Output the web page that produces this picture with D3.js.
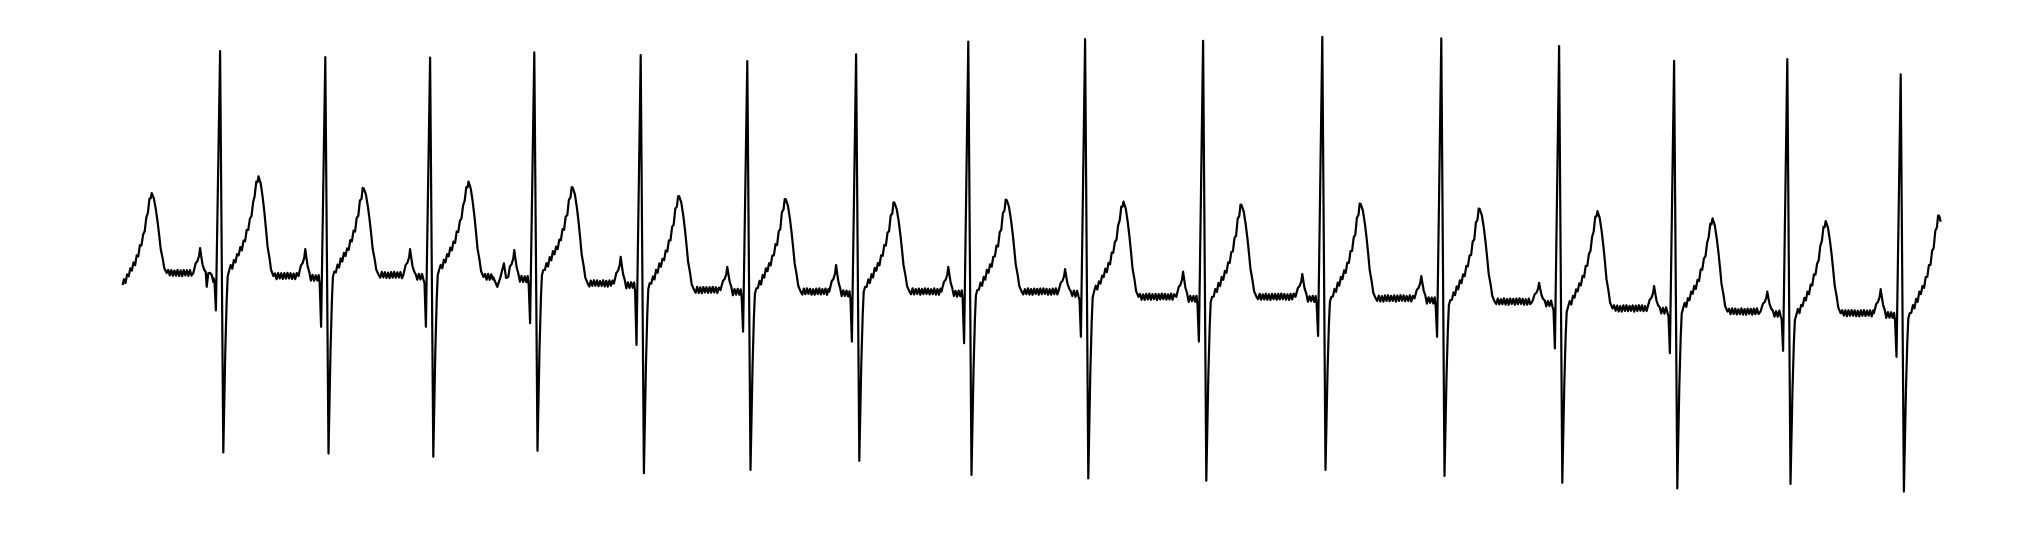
<!DOCTYPE html>
<html>
<head>
<meta charset="utf-8">
<script src="https://cdn.jsdelivr.net/npm/d3@7"></script>
<style>
  html, body { margin: 0; padding: 0; background: #ffffff; }
  svg { display: block; }
</style>
</head>
<body>
<svg id="chart" width="2035" height="538"></svg>
<script>
// ===== Per-beat readings (time in ms, amplitude in µV) =====
// beat 0 only shows its T wave at the left edge
const rPeakTime = [-47, 487, 1013, 1537, 2058, 2590, 3123, 3667, 4228, 4812, 5402, 5998, 6593, 7182, 7757, 8323, 8890];
const rPeakAmp  = [null, 1195, 1164, 1162, 1188, 1175, 1145, 1178, 1242, 1254, 1246, 1266, 1258, 1220, 1146, 1154, 1078];
const sWaveAmp  = [null, -812, -818, -834, -804, -916, -900, -854, -925, -942, -954, -900, -930, -964, -992, -970, -1008];
const qWaveAmp  = [null, -102, -184, -184, -166, -275, -208, -258, -266, -234, -258, -230, -234, -292, -316, -304, -334];
const jPointAmp = [25, 96, 92, 100, 100, 34, 8, 16, 0, -8, -34, -34, -50, -84, -92, -125, -116];
const tWaveAmp  = [485, 568, 508, 542, 512, 470, 454, 436, 450, 442, 425, 430, 405, 395, 358, 345, 372];
const pWaveAmp  = [null, 210, 205, 204, 200, 166, 116, 125, 116, 104, 92, 80, 70, 36, 20, -8, 4];
// isoelectric (TP) level between T of beat i and P of beat i+1
const isoLevel  = [85, 70, 75, 65, 33, 0, -8, -8, -8, -34, -34, -42, -58, -92, -108, -116];

// trace end points
const traceStart = [0, 25];
const traceEnd   = [9090, 341];

// ===== Beat morphology (ms relative to R peak) =====
const pShapeTime = [-134, -122, -113, -105, -100, -95, -88, -80];
const pShapeFrac = [0, 0.39, 0.48, 0.69, 1, 0.71, 0.35, 0.14];
const prTime     = [-72, -64, -56, -48, -40, -33];
const prOffset   = -10;
const qOnsetTime = -28, qOnsetOffset = -40;
const qTime = -21, sTime = 16;
const upTime = [26, 33, 38];
const upFrac = [0.56, 0.84, 0.97];
const jTime = 45;
const stTime = [53, 61, 69, 77, 85, 93, 101, 109, 117, 125, 133, 141, 149, 157, 165, 173, 181, 187];
const stFrac = [0.03, 0.05, 0.08, 0.12, 0.15, 0.19, 0.22, 0.25, 0.29, 0.34, 0.40, 0.46, 0.52, 0.61, 0.70, 0.82, 0.91, 0.97];
const tPeakTime = 192;
const tFallTime = [203, 213, 222, 230, 237, 247, 255, 267];
const tFallFrac = [0.93, 0.79, 0.63, 0.46, 0.30, 0.18, 0.06, 0];

// mains hum ripple riding on the flat segments (µV), sample step in ms
const humRipple = [15, -13, 16, -12, 14, -15, 12, -16, 15, -13, 16, -14, 13, -12, 15, -16,
                   14, -13, 16, -12, 15, -14, 12, -13, 16, -15, 13, -16, 15, -12, 14, -15];
const humStep = 7.75;

// small extra deflections seen on the baseline (absolute ms, µV)
const notchGroups = [
  [[420, 16], [428, 83], [437, 86], [445, 75], [453, 41]],
  [[1852, 65], [1873, 16], [1887, 58], [1906, 133], [1917, 60], [1928, 66]]
];

// ===== Build the trace =====
let rk = 0;
const hum = () => humRipple[(rk++) % humRipple.length];
let pts = [traceStart];
for (let i = 0; i < rPeakTime.length; i++) {
  const r = rPeakTime[i];
  if (i > 0) {
    const iso = isoLevel[i - 1];
    pShapeTime.forEach((t, k) => pts.push([r + t, iso + pShapeFrac[k] * (pWaveAmp[i] - iso)]));
    prTime.forEach(t => pts.push([r + t, iso + prOffset + hum()]));
    pts.push([r + qOnsetTime, iso + qOnsetOffset]);
    pts.push([r + qTime, qWaveAmp[i]]);
    pts.push([r, rPeakAmp[i]]);
    pts.push([r + sTime, sWaveAmp[i]]);
    upTime.forEach((t, k) => pts.push([r + t, sWaveAmp[i] + upFrac[k] * (jPointAmp[i] - sWaveAmp[i])]));
  }
  const J = jPointAmp[i], T = tWaveAmp[i];
  pts.push([r + jTime, J]);
  stTime.forEach((t, k) => pts.push([r + t, J + stFrac[k] * (T - J) + hum()]));
  pts.push([r + tPeakTime, T]);
  if (i === rPeakTime.length - 1) break;
  const post = isoLevel[i];
  tFallTime.forEach((t, k) => pts.push([r + t, post + tFallFrac[k] * (T - post)]));
  const pStart = rPeakTime[i + 1] + pShapeTime[0];
  for (let t = r + tFallTime[tFallTime.length - 1] + humStep; t < pStart - 3; t += humStep) {
    pts.push([t, post + hum()]);
  }
}
pts.push(traceEnd);
pts = pts.filter(d => d[0] >= traceStart[0] && d[0] <= traceEnd[0]);
notchGroups.forEach(g => {
  const a = g[0][0], b = g[g.length - 1][0];
  pts = pts.filter(d => d[0] < a || d[0] > b);
  g.forEach(d => pts.push(d));
});
pts.sort((p, q) => p[0] - q[0]);

// ===== Draw =====
const svg = d3.select("#chart");
const x = d3.scaleLinear().domain([0, 9090]).range([122.7, 1940.7]);
const y = d3.scaleLinear().domain([-1000, 1200]).range([490, 50]);

svg.append("rect").attr("width", 2035).attr("height", 538).attr("fill", "#ffffff");
svg.append("path")
  .datum(pts)
  .attr("fill", "none")
  .attr("stroke", "#000000")
  .attr("stroke-width", 2.2)
  .attr("stroke-linejoin", "round")
  .attr("stroke-linecap", "butt")
  .attr("d", d3.line().x(d => x(d[0])).y(d => y(d[1])));
</script>
</body>
</html>
